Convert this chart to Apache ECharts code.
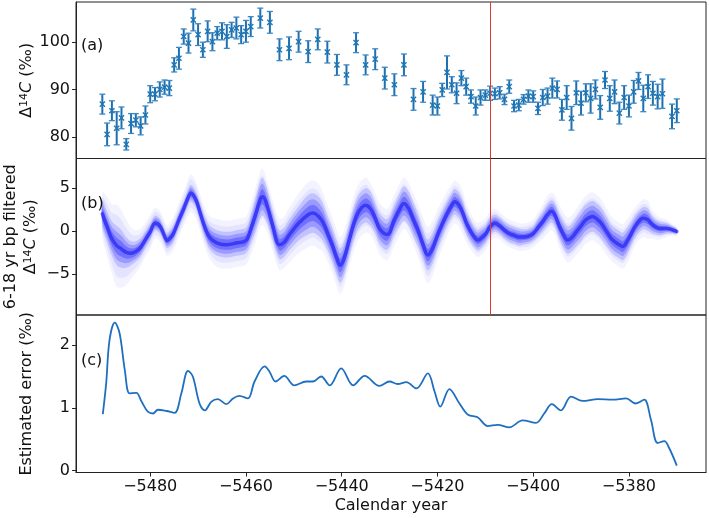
<!DOCTYPE html>
<html><head><meta charset="utf-8">
<script src="https://cdn.jsdelivr.net/npm/echarts@6/dist/echarts.min.js"></script>
<style>html,body{margin:0;padding:0;background:#fff}#c{width:709px;height:518px}</style>
</head><body><div id="c"></div>
<script>
// ---- Panel (a): Δ14C measurements with error bars ----
const aYears = [-5490,-5489,-5488,-5487,-5486,-5485,-5484,-5483,-5482,-5481,-5480,-5479,-5478,-5477,-5476,-5475,-5474,-5473,-5472,-5471,-5470,-5469,-5468,-5467,-5466,-5465,-5464,-5463,-5462,-5461,-5460,-5459,
 -5457,-5455,-5453,-5451,-5449,-5447,-5445,-5443,-5441,-5439,-5437,-5435,-5433,-5431,-5429,-5427,-5425,-5423,-5421,
 -5420,-5419,-5418,-5417,-5416,-5415,-5414,-5413,-5412,-5411,-5410,-5409,-5408,-5407,-5406,-5405,-5404,-5403,-5402,-5401,-5400,-5399,-5398,-5397,-5396,-5395,-5394,-5393,-5392,-5391,-5390,-5389,-5388,-5387,-5386,-5385,-5384,-5383,-5382,-5381,-5380,-5379,-5378,-5377,-5376,-5375,-5374,-5373,-5371,-5370];
const aValues = [86.9,80.5,85.5,81.8,84.0,78.4,82.8,83.5,82.3,84.6,89.0,89.0,90.0,90.5,90.3,95.2,96.6,101.2,99.8,104.7,101.6,98.4,102.3,100.1,101.9,102.3,101.2,102.6,103.0,101.6,102.3,103.3,
 105.1,104.2,98.4,98.7,100.1,98.0,100.6,97.9,95.2,93.1,99.9,95.2,96.4,92.4,91.0,95.2,87.9,89.5,86.7,
 86.5,89.9,93.6,91.0,89.2,92.4,90.6,88.5,86.5,88.3,88.8,89.2,89.1,89.3,87.9,90.6,86.5,86.7,87.9,88.6,88.5,86.0,88.3,88.6,90.3,90.0,85.7,88.3,83.9,89.3,87.1,89.3,88.1,90.0,86.2,92.0,88.1,89.5,85.0,88.3,86.5,89.5,91.8,88.1,90.6,89.2,88.5,89.1,84.3,85.5];
const aErrors = [2.1,2.4,2.1,3.5,2.3,1.2,2.1,1.4,1.9,1.9,1.8,1.4,1.6,1.5,1.6,1.5,2.3,1.6,2.1,2.3,2.3,1.6,2.2,1.9,1.4,1.8,2.5,1.6,2.3,1.9,2.3,2.1,
 2.1,2.3,2.3,2.4,2.2,2.3,2.2,2.3,2.2,2.1,2.1,2.1,2.2,2.3,2.3,2.3,2.3,2.2,2.1,
 1.9,1.4,3.5,1.7,2.2,1.6,1.8,1.4,1.9,1.6,1.1,1.5,1.2,1.3,1.1,1.4,1.2,1.2,1.0,1.3,1.2,1.3,1.7,1.7,2.1,1.8,2.2,2.5,2.5,2.5,2.5,1.9,3.1,2.0,2.5,1.8,2.7,2.5,2.3,2.5,2.3,2.4,1.8,2.8,2.5,2.5,2.6,3.1,2.6,2.5];

// ---- Panel (b): 6-18 yr band-pass filtered ensemble (centre, dense half-width, faint half-width) ----
const bYears = [-5490,-5489,-5488,-5487,-5486,-5485,-5484,-5483,-5482,-5481,-5480,-5479,-5478,-5477,-5476.5,-5475.5,-5475,-5474,-5473,-5472,-5471.5,-5470.5,-5469.5,-5468.5,-5467.5,-5466,-5464,-5462,-5460,-5459,-5458,-5457,-5456.5,-5455.5,-5454.5,-5453,-5452,-5451,-5449,-5447,-5446,-5445,-5444,-5443,-5442,-5441,-5440.3,-5439.5,-5438.5,-5437.5,-5436.4,-5435,-5434,-5433,-5432,-5430.5,-5429,-5428,-5427,-5426,-5425,-5424,-5423,-5422,-5421,-5420,-5419,-5418,-5417,-5416.4,-5415.5,-5414.7,-5414,-5413,-5412,-5411.5,-5411,-5410,-5409,-5408,-5407,-5406,-5405,-5404,-5403,-5402,-5401,-5400,-5399,-5398,-5397,-5396.2,-5395.5,-5394.5,-5393.5,-5392.8,-5392,-5391,-5390,-5389,-5387.6,-5386.5,-5385.8,-5384.5,-5383.5,-5382,-5381.3,-5380.5,-5379.5,-5378.5,-5377,-5376,-5375.4,-5374.5,-5373.5,-5372,-5371,-5370];
const bCenter = [2.0,0.5,-0.9,-1.7,-2.1,-2.5,-2.6,-2.4,-1.9,-1.0,-0.1,0.9,0.6,-0.6,-1.1,-0.6,-0.1,1.3,2.6,4.0,4.4,3.7,2.0,0.3,-0.8,-1.4,-1.6,-1.4,-1.1,0.2,1.9,3.7,4.0,2.8,0.8,-1.6,-1.3,-0.5,0.9,1.9,2.1,1.8,1.1,-0.2,-1.6,-3.2,-4.0,-3.2,-1.2,0.8,2.3,3.0,2.6,1.5,0.2,-0.4,1.3,2.4,3.2,2.6,1.3,0.0,-1.6,-2.8,-2.0,-0.5,0.8,2.0,3.0,3.4,3.0,2.1,1.0,-0.1,-0.9,-1.05,-0.9,-0.4,0.5,0.9,0.6,0.1,-0.3,-0.5,-0.7,-0.7,-0.6,-0.3,0.4,1.1,1.9,2.3,1.9,0.5,-0.6,-1.05,-0.8,-0.1,0.6,1.3,1.7,1.3,0.9,-0.2,-1.0,-1.6,-1.8,-1.3,-0.3,0.7,1.5,1.3,0.9,0.5,0.3,0.3,0.15,-0.05];
const bMid = [1.6,1.8,2.0,2.3,2.2,1.8,1.4,1.2,1.1,1.0,1.0,0.9,0.9,0.9,0.9,1.0,1.0,1.0,1.0,1.0,1.0,1.0,1.2,1.3,1.4,1.5,1.5,1.5,1.5,1.7,2.0,2.2,2.2,2.0,1.8,1.7,1.7,1.8,2.0,2.3,2.3,2.3,2.2,2.0,2.0,2.0,2.0,2.0,2.0,2.0,2.0,2.0,2.0,1.8,1.8,1.8,1.8,1.9,2.0,2.0,2.0,1.9,1.8,1.8,1.8,1.7,1.6,1.5,1.5,1.5,1.5,1.5,1.4,1.3,1.2,1.2,1.2,1.1,1.1,1.0,1.0,1.0,1.0,1.0,1.0,0.9,0.9,0.9,1.1,1.2,1.3,1.3,1.4,1.5,1.6,1.6,1.6,1.7,1.8,1.8,1.8,1.8,1.8,1.7,1.6,1.6,1.6,1.6,1.4,1.3,1.3,1.3,1.1,0.9,0.8,0.6,0.45,0.3];
const bOuter = [2.6,3.5,4.0,4.8,4.5,3.8,3.0,2.5,2.2,2.0,2.0,1.8,1.8,1.8,1.8,1.9,2.0,2.0,2.0,2.2,2.2,2.2,2.2,2.3,2.5,2.8,2.8,2.8,2.8,3.0,3.2,3.3,3.3,3.0,3.0,3.0,3.0,3.2,3.5,3.8,3.8,3.8,3.5,3.3,3.3,3.3,3.3,3.3,3.2,3.2,3.2,3.2,3.0,3.0,3.0,3.0,3.0,3.0,3.0,3.0,3.0,3.1,3.2,3.3,3.2,3.0,2.8,2.6,2.5,2.5,2.5,2.5,2.3,2.1,2.0,2.0,2.0,1.9,1.8,1.7,1.6,1.6,1.6,1.6,1.6,1.6,1.6,1.6,1.8,2.0,2.2,2.2,2.3,2.5,2.6,2.6,2.6,2.7,2.8,2.8,2.8,2.8,2.8,2.7,2.6,2.6,2.6,2.6,2.4,2.2,2.2,2.2,1.8,1.5,1.3,1.0,0.7,0.5];

// ---- Panel (c): estimated error ----
const cYears = [-5489.9,-5489.2,-5488.5,-5487.4,-5486.4,-5485.3,-5484.3,-5482.9,-5481.8,-5480.5,-5479.4,-5478.4,-5476.6,-5474.9,-5473.5,-5472.1,-5471.1,-5469.7,-5468.6,-5467.2,-5465.9,-5464.1,-5462.7,-5461.4,-5459.6,-5458.2,-5456.1,-5455.1,-5453.8,-5452.0,-5449.9,-5447.4,-5446.0,-5444.3,-5442.5,-5440.1,-5437.6,-5435.2,-5432.1,-5430.0,-5428.3,-5426.5,-5424.4,-5422.0,-5420.6,-5419.4,-5417.5,-5415.4,-5413.6,-5411.6,-5409.5,-5407.4,-5405.0,-5402.2,-5399.4,-5397.7,-5396.1,-5394.2,-5392.1,-5389.7,-5386.5,-5383.4,-5380.6,-5378.6,-5376.8,-5375.4,-5374.0,-5372.6,-5371.6,-5370.0];
const cValues = [0.90,1.39,2.08,2.36,2.19,1.60,1.23,1.24,1.10,0.94,0.91,0.97,0.95,0.92,1.23,1.59,1.50,1.07,0.96,1.10,1.14,1.06,1.15,1.19,1.15,1.42,1.66,1.58,1.42,1.51,1.36,1.42,1.42,1.50,1.36,1.63,1.36,1.51,1.35,1.42,1.38,1.41,1.31,1.55,1.26,1.02,1.30,1.07,0.89,0.85,0.71,0.73,0.69,0.80,0.76,0.91,1.06,0.96,1.18,1.11,1.14,1.13,1.15,1.07,1.13,0.81,0.44,0.47,0.36,0.08];

const redLineYear = -5409;
const xTicks = [-5480,-5460,-5440,-5420,-5400,-5380];
const aTicks = [80,90,100];
const bTicks = [-5,0,5];
const cTicks = [0,1,2];

const FONT = 'DejaVu Sans';
const X_MIN = -5495.5, X_MAX = -5363.9;
const blue = '#1f77b4';

const grids = [
  {left:76, right:3, top:2, height:156.5},
  {left:76, right:3, top:158.5, height:156.5},
  {left:76, right:3, top:315, height:157.5}
].map(g => Object.assign({show:true, borderColor:'#222', borderWidth:1, backgroundColor:'transparent', containLabel:false, outerBoundsMode:'none'}, g));

function xAx(i, show) {
  return {type:'value', gridIndex:i, min:X_MIN, max:X_MAX, show:show,
    splitLine:{show:false}, axisLine:{show:show, onZero:false, lineStyle:{color:'#222'}},
    axisTick:{show:show, customValues:xTicks, length:4, lineStyle:{color:'#222'}},
    axisLabel:{show:show, customValues:xTicks, margin:6, fontFamily:FONT, fontSize:16, color:'#111',
      formatter:v => String(v).replace('-', '\u2212')},
    name: show ? 'Calendar year' : '', nameLocation:'middle', nameGap:25, nameMoveOverlap:false,
    nameTextStyle:{fontFamily:FONT, fontSize:16, color:'#111'}};
}
const richName = {
  n:{fontFamily:FONT, fontSize:16, color:'#111'},
  sup:{fontFamily:FONT, fontSize:11, color:'#111', verticalAlign:'bottom', padding:[0,0,7,0]},
  it:{fontFamily:FONT, fontSize:16, fontStyle:'italic', color:'#111'}
};
function yAx(i, min, max, ticks, name, gap, lh) {
  return {type:'value', gridIndex:i, min:min, max:max,
    splitLine:{show:false}, axisLine:{show:true, onZero:false, lineStyle:{color:'#222'}},
    axisTick:{show:true, customValues:ticks, length:4, lineStyle:{color:'#222'}},
    axisLabel:{customValues:ticks, margin:6, fontFamily:FONT, fontSize:16, color:'#111',
      formatter:v => String(v).replace('-', '\u2212')},
    name:name, nameLocation:'middle', nameRotate:90, nameGap:gap, nameMoveOverlap:false,
    nameTextStyle:{fontFamily:FONT, fontSize:16, color:'#111', lineHeight:lh, align:'center', rich:richName}};
}

const errData = aYears.map((y,i) => [y, aValues[i], aErrors[i]]);
const pts = (xs, ys) => xs.map((x,i) => [x, ys[i]]);

const redMark = {silent:true, symbol:['none','none'], label:{show:false},
  lineStyle:{color:'#e03a2f', width:1, type:'solid'}, data:[{xAxis:redLineYear}], animation:false};

// band polygon drawn through the axis scales from [x, lo, hi] items
function bandSeries(half, scale, fill, z) {
  return {type:'custom', xAxisIndex:1, yAxisIndex:1, z:z, silent:true,
    data: bYears.map((x,i) => [x, bCenter[i]-half[i]*scale, bCenter[i]+half[i]*scale]),
    encode:{x:0, y:[1,2]},
    renderItem:function(params, api){
      if (params.dataIndexInside !== 0) return null;
      const n = params.dataInsideLength, up = [], lo = [];
      for (let i = 0; i < n; i++) {
        up.push(api.coord([api.value(0,i), api.value(2,i)]));
        lo.push(api.coord([api.value(0,i), api.value(1,i)]));
      }
      return {type:'polygon', shape:{points:up.concat(lo.reverse()), smooth:0.35}, style:{fill:fill}};
    }};
}

const option = {
  animation:false,
  grid: grids,
  xAxis:[xAx(0,false), xAx(1,false), xAx(2,true)],
  yAxis:[
    yAx(0, 75.4, 108.5, aTicks, '{n|Δ}{sup|14}{it|C}{n| (‰)}', 39, 20),
    yAx(1, -9.8, 8.46, bTicks, '{n|6-18 yr bp filtered}\n{n|Δ}{sup|14}{it|C}{n| (‰)}', 35, 20),
    yAx(2, -0.03, 2.48, cTicks, 'Estimated error (‰)', 39, 20)
  ],
  series:[
    {type:'custom', xAxisIndex:0, yAxisIndex:0, data:errData, encode:{x:0, y:1},
      renderItem:function(params, api){
        const x = api.value(0), y = api.value(1), e = api.value(2);
        const c = api.coord([x, y]), t = api.coord([x, y+e]), b = api.coord([x, y-e]);
        const cap = 3, m = 2.6;
        const st = {stroke:'#1f70b0', lineWidth:2};
        const stc = {stroke:'#3b88c4', lineWidth:1.3};
        return {type:'group', children:[
          {type:'line', shape:{x1:c[0], y1:t[1], x2:c[0], y2:b[1]}, style:st},
          {type:'line', shape:{x1:c[0]-cap, y1:t[1], x2:c[0]+cap, y2:t[1]}, style:stc},
          {type:'line', shape:{x1:c[0]-cap, y1:b[1], x2:c[0]+cap, y2:b[1]}, style:stc},
          {type:'line', shape:{x1:c[0]-m, y1:c[1]-m, x2:c[0]+m, y2:c[1]+m}, style:{stroke:blue, lineWidth:1.4}},
          {type:'line', shape:{x1:c[0]-m, y1:c[1]+m, x2:c[0]+m, y2:c[1]-m}, style:{stroke:blue, lineWidth:1.4}}
        ]};
      },
      markLine:redMark, z:3},
    bandSeries(bOuter, 1.0, 'rgba(90,90,255,0.07)', 1),
    bandSeries(bOuter, 0.75, 'rgba(80,80,255,0.09)', 1),
    bandSeries(bMid, 1.0, 'rgba(60,60,255,0.2)', 1),
    bandSeries(bMid, 0.7, 'rgba(50,50,255,0.28)', 1),
    bandSeries(bMid, 0.4, 'rgba(45,45,250,0.38)', 1),
    {type:'line', xAxisIndex:1, yAxisIndex:1, smooth:0.4, symbol:'none', z:2,
      lineStyle:{color:'rgba(35,35,245,0.7)', width:3.5, cap:'round', join:'round'}, data:pts(bYears, bCenter),
      markLine:redMark},
    {type:'line', xAxisIndex:2, yAxisIndex:2, smooth:0.35, symbol:'none',
      lineStyle:{color:'#1f6fc0', width:1.8}, data:pts(cYears, cValues)}
  ],
  graphic:[
    {type:'text', left:81, top:38, style:{text:'(a)', font:'16px "DejaVu Sans"', fill:'#111'}, z:10},
    {type:'text', left:81, top:196, style:{text:'(b)', font:'16px "DejaVu Sans"', fill:'#111'}, z:10},
    {type:'text', left:81, top:353, style:{text:'(c)', font:'16px "DejaVu Sans"', fill:'#111'}, z:10}
  ]
};
echarts.init(document.getElementById('c'), null, {renderer:'canvas'}).setOption(option);
</script></body></html>
